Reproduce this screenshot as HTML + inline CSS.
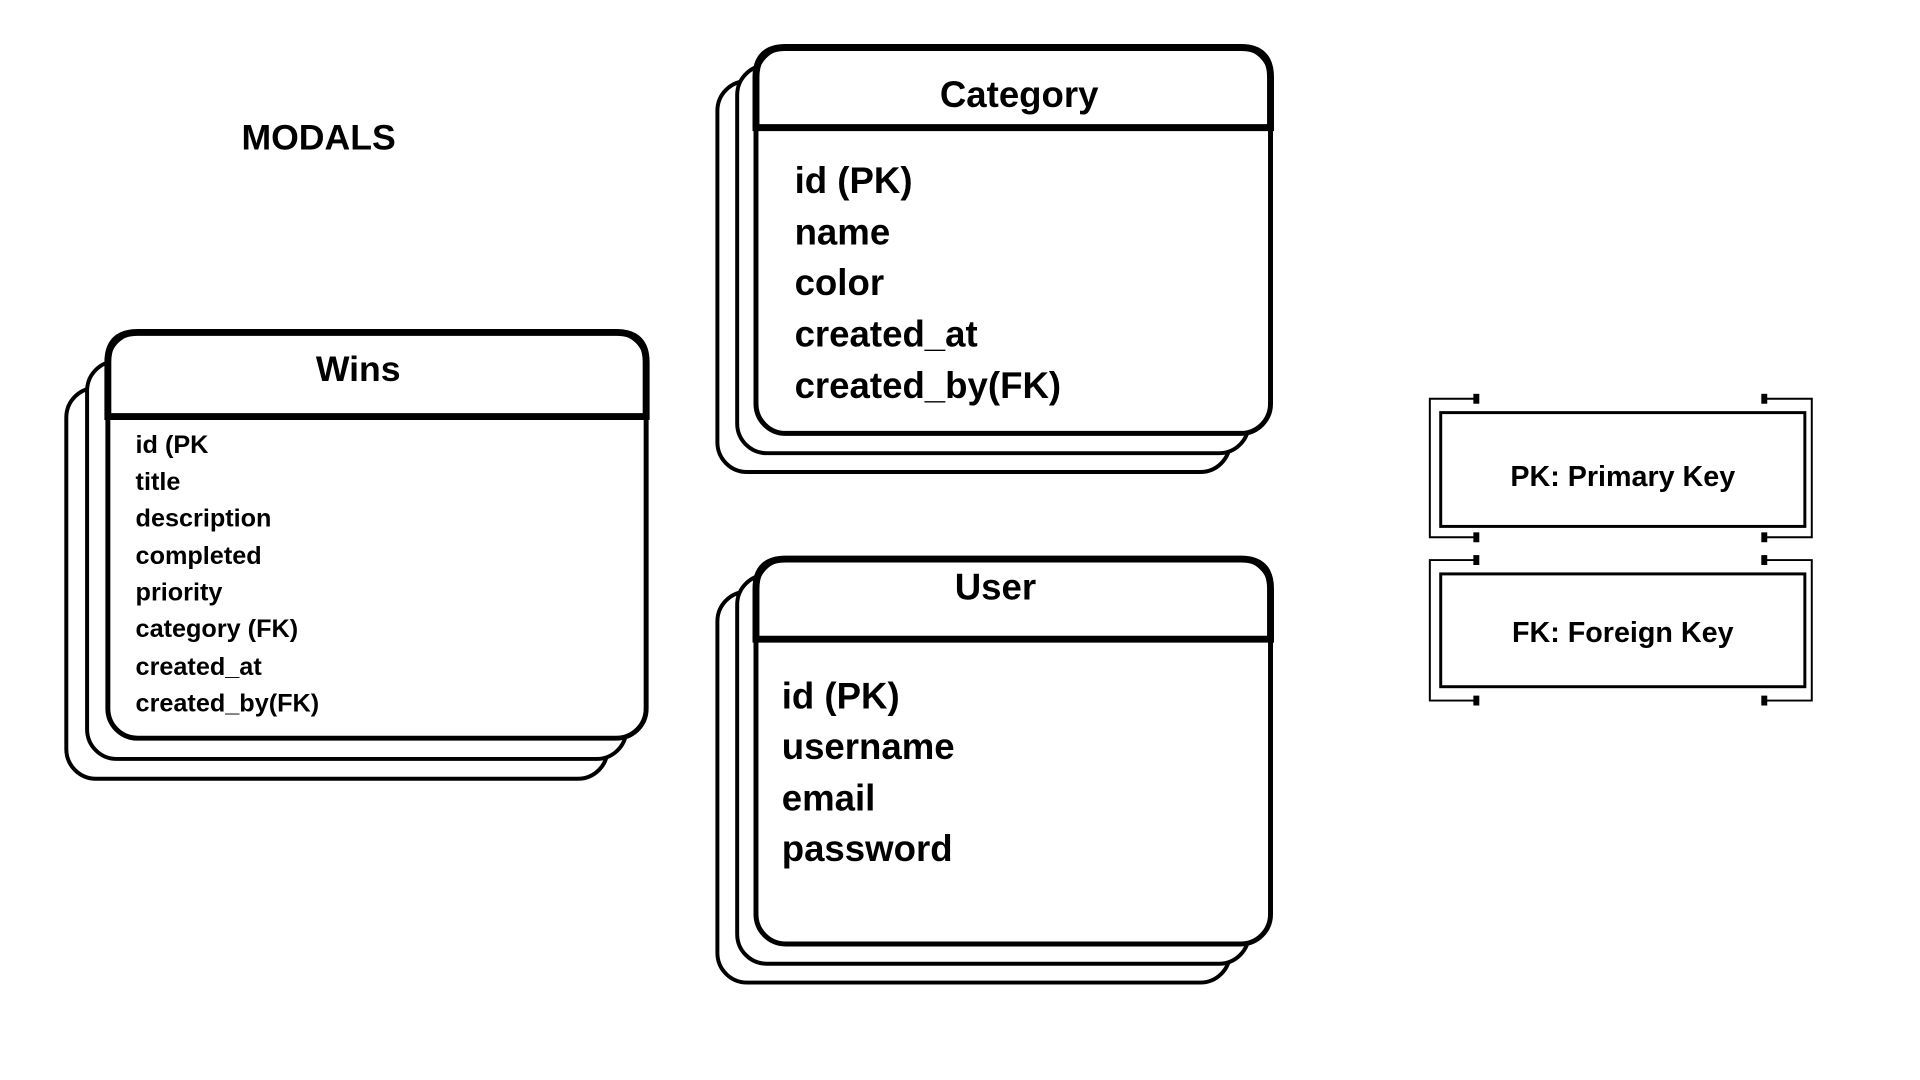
<!DOCTYPE html>
<html><head><meta charset="utf-8"><style>
html,body{margin:0;padding:0;background:#fff;}
svg{display:block;}
text{font-family:"Liberation Sans",sans-serif;font-weight:bold;fill:#000;}
</style></head><body>
<svg width="1920" height="1080" viewBox="0 0 1920 1080" xmlns="http://www.w3.org/2000/svg">
<g transform="scale(0.9895)">
<text x="244" y="151" font-size="36">MODALS</text>

<!-- Wins -->
<g fill="#fff" stroke="#000" stroke-width="4">
<rect x="67" y="392" width="547" height="395" rx="30"/>
<rect x="88" y="365" width="545" height="402" rx="30"/>
<rect x="109" y="336" width="544" height="410" rx="30" stroke-width="5"/>
</g>
<path d="M109 421 V366 Q109 336 139 336 H623 Q653 336 653 366 V421 Z" fill="none" stroke="#000" stroke-width="7"/>
<text x="362" y="385" font-size="36" text-anchor="middle">Wins</text>
<g font-size="25.5">
<text x="137" y="458">id (PK</text>
<text x="137" y="495">title</text>
<text x="137" y="532">description</text>
<text x="137" y="570">completed</text>
<text x="137" y="607">priority</text>
<text x="137" y="644">category (FK)</text>
<text x="137" y="682">created_at</text>
<text x="137" y="719">created_by(FK)</text>
</g>

<!-- Category -->
<g fill="#fff" stroke="#000" stroke-width="4">
<rect x="725" y="82" width="518" height="395" rx="30"/>
<rect x="745" y="66" width="517" height="392" rx="30"/>
<rect x="764" y="48" width="520" height="390" rx="30" stroke-width="5"/>
</g>
<path d="M764 129 V78 Q764 48 794 48 H1254 Q1284 48 1284 78 V129 Z" fill="none" stroke="#000" stroke-width="7"/>
<text x="1030" y="108" font-size="37" text-anchor="middle">Category</text>
<g font-size="37">
<text x="803" y="195">id (PK)</text>
<text x="803" y="247">name</text>
<text x="803" y="298">color</text>
<text x="803" y="350">created_at</text>
<text x="803" y="402">created_by(FK)</text>
</g>

<!-- User -->
<g fill="#fff" stroke="#000" stroke-width="4">
<rect x="725" y="598" width="518" height="395" rx="30"/>
<rect x="745" y="581" width="517" height="393" rx="30"/>
<rect x="764" y="565" width="520" height="389" rx="30" stroke-width="5"/>
</g>
<path d="M764 646 V595 Q764 565 794 565 H1254 Q1284 565 1284 595 V646 Z" fill="none" stroke="#000" stroke-width="7"/>
<text x="1006" y="606" font-size="37" text-anchor="middle">User</text>
<g font-size="37">
<text x="790" y="716">id (PK)</text>
<text x="790" y="767">username</text>
<text x="790" y="819">email</text>
<text x="790" y="870">password</text>
</g>

<!-- Legend -->
<g fill="none" stroke="#000">
<rect x="1456" y="417" width="368" height="115" stroke-width="3"/>
<path d="M1492 403 H1445 V543 H1492 M1783 403 H1831 V543 H1783" stroke-width="2"/>
<rect x="1456" y="580" width="368" height="114" stroke-width="3"/>
<path d="M1492 566 H1445 V708 H1492 M1783 566 H1831 V708 H1783" stroke-width="2"/>
</g>
<g fill="#000">
<rect x="1489" y="398" width="6" height="10"/><rect x="1780" y="398" width="6" height="10"/>
<rect x="1489" y="538" width="6" height="10"/><rect x="1780" y="538" width="6" height="10"/>
<rect x="1489" y="561" width="6" height="10"/><rect x="1780" y="561" width="6" height="10"/>
<rect x="1489" y="703" width="6" height="10"/><rect x="1780" y="703" width="6" height="10"/>
</g>
<text x="1640" y="491" font-size="29" text-anchor="middle">PK: Primary Key</text>
<text x="1640" y="649" font-size="29" text-anchor="middle">FK: Foreign Key</text>
</g>
</svg>
</body></html>
